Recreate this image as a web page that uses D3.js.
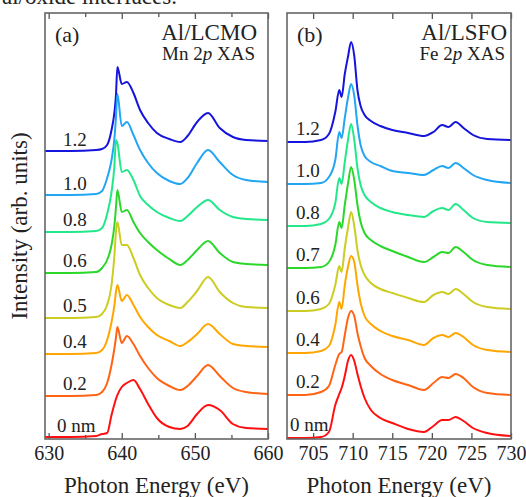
<!DOCTYPE html>
<html>
<head>
<meta charset="utf-8">
<script src="https://cdn.jsdelivr.net/npm/d3@7"></script>
<style>
  body { margin: 0; background: #fff; }
  svg text { font-family: "Liberation Serif", "DejaVu Serif", serif; fill: #222; }
</style>
</head>
<body>
<div id="chart"></div>
<script>
// Mn 2p XAS of Al/LCMO, energies shared by every curve of panel (a)
const energyA = [629.5, 633, 636.5, 637.3, 638.0, 638.6, 639.0, 639.2, 639.4, 640.0, 640.7, 641.6,
  642.5, 643.6, 644.8, 646.5, 648.0, 649.0, 650.3, 651.8, 653.4, 655.2, 657, 660];
const lcmo12 = [0, 0, 0.1, 0.2, 0.6, 2.1, 3.9, 5.5, 8.4, 6.7, 6.9, 5.8, 4.1, 2.8, 1.8, 1.2, 0.9, 1.5, 2.9, 3.8, 2.3, 1.4, 1.1, 1.0];
const lcmo10 = [0, 0, 0.1, 0.4, 1.7, 3.5, 5.7, 7.7, 10.1, 6.9, 7.3, 6.0, 4.5, 3.2, 2.2, 1.4, 1.1, 1.7, 3.2, 4.5, 3.3, 2.0, 1.5, 1.3];
const lcmo08 = [-0.1, -0.1, 0, 0.3, 1.7, 3.9, 6.6, 9.1, 8.8, 5.9, 6.1, 5.1, 3.5, 2.6, 1.9, 1.3, 1.0, 1.5, 2.4, 3.1, 2.1, 1.4, 1.2, 1.1];
const lcmo06 = [-0.1, -0.1, 0, 0.4, 1.2, 2.7, 4.7, 6.4, 8.2, 6.0, 6.2, 5.0, 3.9, 3.0, 2.2, 1.3, 0.7, 1.2, 2.2, 3.1, 1.9, 1.0, 0.8, 0.7];
const lcmo05 = [-0.1, -0.1, 0, 0.3, 1.2, 3.2, 6.2, 8.5, 9.5, 7.2, 7.2, 5.9, 4.2, 2.9, 1.9, 1.2, 0.9, 1.5, 2.6, 4.0, 2.5, 1.4, 1.0, 0.9];
const lcmo04 = [-0.1, -0.1, 0, 0.3, 1.3, 3.1, 4.8, 6.1, 6.8, 5.2, 5.8, 4.8, 3.6, 2.6, 1.8, 1.2, 0.7, 1.1, 1.9, 2.9, 1.9, 0.9, 0.7, 0.6];
const lcmo02 = [-0.1, -0.1, 0, 0.3, 1.2, 3.0, 4.7, 5.7, 6.8, 5.2, 5.9, 5.1, 3.9, 2.7, 1.7, 0.9, 0.5, 0.9, 1.9, 3.0, 1.9, 0.7, 0.3, 0.1];
const lcmo00 = [0, 0, 0.1, 0.3, 0.4, 2.2, 3.3, 3.8, 4.2, 5.0, 5.4, 5.7, 4.8, 3.3, 1.9, 1.0, 0.8, 1.1, 2.3, 3.2, 2.7, 1.3, 0.9, 0.8];
const labelsA = ["1.2", "1.0", "0.8", "0.6", "0.5", "0.4", "0.2", "0 nm"];
const offsetsA = [28.8, 24.4, 20.8, 16.7, 12.2, 8.6, 4.4, 0.2];
const ticksA = [630, 640, 650, 660];
const minorA = [635, 645, 655];

// Fe 2p XAS of Al/LSFO, panel (b)
const energyB = [701.7, 704, 706, 707, 707.8, 708.3, 708.6, 709.0, 709.4, 709.8, 710.2, 710.6, 711.0,
  711.5, 712.3, 713.5, 715, 717, 719, 720.2, 721.3, 722.1, 723.0, 724.0, 725.2, 727, 730];
const lsfo12 = [0, 0, 0.2, 0.8, 3.0, 5.2, 4.5, 6.8, 8.5, 10.0, 8.6, 5.2, 3.6, 2.7, 2.1, 1.6, 1.2, 0.9, 0.6, 1.0, 1.7, 1.5, 2.0, 1.4, 0.7, 0.3, 0.2];
const lsfo10 = [0, 0, 0.1, 0.7, 2.4, 5.2, 4.6, 6.6, 8.6, 10.0, 8.8, 5.9, 3.9, 2.8, 2.2, 1.8, 1.3, 1.1, 0.9, 1.4, 1.8, 1.6, 2.1, 1.6, 0.9, 0.4, 0.1];
const lsfo08 = [0, 0, 0.2, 0.7, 2.3, 4.8, 4.2, 6.4, 8.6, 10.2, 8.6, 5.8, 4.1, 3.1, 2.4, 1.8, 1.4, 1.1, 0.9, 1.5, 1.8, 1.6, 2.2, 1.6, 0.8, 0.4, 0.3];
const lsfo07 = [0, 0, 0.1, 0.6, 2.3, 4.6, 4.0, 6.3, 8.4, 10.1, 8.8, 6.3, 4.6, 3.5, 2.8, 2.2, 1.7, 1.1, 0.6, 1.1, 1.6, 1.5, 2.1, 1.6, 0.8, 0.3, 0.1];
const lsfo06 = [0, 0, 0.2, 0.7, 2.6, 4.5, 3.9, 6.3, 8.3, 9.9, 8.5, 6.1, 4.6, 3.6, 2.8, 2.2, 1.8, 1.3, 0.9, 1.6, 1.9, 1.7, 2.2, 1.7, 0.9, 0.4, 0.2];
const lsfo04 = [0, 0, 0.2, 0.7, 2.8, 5.1, 4.4, 6.8, 8.6, 9.7, 9.1, 6.8, 5.0, 3.7, 2.9, 2.2, 1.7, 1.3, 0.8, 1.5, 1.8, 1.6, 2.0, 1.6, 0.8, 0.3, 0.1];
const lsfo02 = [0, 0, 0.3, 0.9, 3.0, 4.1, 4.3, 6.0, 7.7, 8.4, 7.9, 6.2, 4.9, 3.7, 2.9, 2.1, 1.5, 1.0, 0.5, 1.2, 1.8, 1.7, 2.1, 1.7, 0.8, 0.2, 0];
const lsfo00 = [0, 0, 0.1, 0.6, 3.3, 4.4, 5.0, 6.2, 7.7, 8.3, 7.7, 6.4, 5.2, 4.0, 2.8, 2.0, 1.5, 0.9, 0.6, 1.2, 1.8, 1.8, 2.1, 1.7, 1.0, 0.5, 0.2];
const labelsB = ["1.2", "1.0", "0.8", "0.7", "0.6", "0.4", "0.2", "0 nm"];
const offsetsB = [29.7, 25.5, 21.3, 17.1, 12.8, 8.6, 4.4, 0.1];
const ticksB = [705, 710, 715, 720, 725, 730];

// same colour order in both panels, thickest film first
const colors = ["#1414dc", "#22a6f4", "#22e88a", "#2ad82a", "#cccc22", "#ffa600", "#ff6414", "#ff1010"];

const serif = '"Liberation Serif", "DejaVu Serif", serif';
const plotTop = 13, plotBottom = 439;

const svg = d3.select("#chart")
  .append("svg")
  .attr("width", 526)
  .attr("height", 497)
  .attr("font-family", serif);

const y = d3.scaleLinear().domain([0, 42.6]).range([plotBottom, plotTop]);

// text of the page above the figure, cut off at the top edge
svg.append("text")
  .attr("x", 2)
  .attr("y", 4)
  .style("font-size", "23px")
  .text("al/oxide interfaces.");

function drawPanel(p) {
  const x = d3.scaleLinear().domain(p.domain).range([p.left, p.right]);
  const g = svg.append("g");

  g.append("clipPath").attr("id", "clip" + p.id)
    .append("rect")
    .attr("x", p.left).attr("y", plotTop)
    .attr("width", p.right - p.left).attr("height", plotBottom - plotTop);

  const line = d3.line()
    .x(d => x(d[0]))
    .y(d => y(d[1]))
    .curve(d3.curveMonotoneX);

  g.append("g")
    .attr("clip-path", `url(#clip${p.id})`)
    .selectAll("path")
    .data(p.curves)
    .join("path")
    .attr("d", (c, i) => line(p.energy.map((e, j) => [e, c[j] + p.offsets[i]])))
    .attr("fill", "none")
    .attr("stroke", (c, i) => colors[i])
    .attr("stroke-width", 2)
    .attr("stroke-linejoin", "round");

  // thickness labels just above each pre-edge baseline
  g.selectAll(".lbl")
    .data(p.labels)
    .join("text")
    .attr("class", "lbl")
    .attr("x", d => p.left + (d.includes("nm") ? p.nmShift : p.labelShift))
    .attr("y", (d, i) => y(p.offsets[i]) - p.labelGap)
    .style("font-size", "19px")
    .text(d => d);

  // ticks point inward on bottom and top
  const styleAxis = a => {
    a.select(".domain").remove();
    a.attr("font-family", serif);
    a.selectAll("line").attr("stroke", "#555").attr("stroke-width", 1.3);
    a.selectAll("text").style("font-size", "20px").style("fill", "#222");
  };
  g.append("g")
    .attr("transform", `translate(0,${plotBottom})`)
    .call(d3.axisBottom(x).tickValues(p.ticks).tickSizeInner(-6).tickSizeOuter(0).tickPadding(7).tickFormat(d3.format("d")))
    .call(styleAxis);
  g.append("g")
    .attr("transform", `translate(0,${plotTop})`)
    .call(d3.axisTop(x).tickValues(p.ticks).tickSizeInner(-6).tickSizeOuter(0).tickFormat(""))
    .call(styleAxis);
  if (p.minor.length) {
    g.append("g")
      .attr("transform", `translate(0,${plotBottom})`)
      .call(d3.axisBottom(x).tickValues(p.minor).tickSizeInner(-4).tickSizeOuter(0).tickFormat(""))
      .call(styleAxis);
    g.append("g")
      .attr("transform", `translate(0,${plotTop})`)
      .call(d3.axisTop(x).tickValues(p.minor).tickSizeInner(-4).tickSizeOuter(0).tickFormat(""))
      .call(styleAxis);
  }

  g.append("rect")
    .attr("x", p.left).attr("y", plotTop)
    .attr("width", p.right - p.left).attr("height", plotBottom - plotTop)
    .attr("fill", "none")
    .attr("stroke", "#666")
    .attr("stroke-width", 1.6);

  g.append("text")
    .attr("x", p.left + 10).attr("y", 42)
    .style("font-size", "22px")
    .text(p.tag);

  g.append("text")
    .attr("x", p.titleRight).attr("y", 40)
    .attr("text-anchor", "end")
    .style("font-size", "23px")
    .text(p.sample);

  const edge = g.append("text")
    .attr("x", p.titleRight - 2).attr("y", 60)
    .attr("text-anchor", "end")
    .style("font-size", "19px");
  edge.append("tspan").text(p.element + " 2");
  edge.append("tspan").style("font-style", "italic").text("p");
  edge.append("tspan").text(" XAS");

  g.append("text")
    .attr("x", (p.left + p.right) / 2).attr("y", 493)
    .attr("text-anchor", "middle")
    .style("font-size", "23px")
    .text("Photon Energy (eV)");
}

drawPanel({
  id: "a", tag: "(a)", sample: "Al/LCMO", element: "Mn",
  domain: [629.5, 660], left: 45, right: 268, titleRight: 257,
  energy: energyA,
  curves: [lcmo12, lcmo10, lcmo08, lcmo06, lcmo05, lcmo04, lcmo02, lcmo00],
  labels: labelsA, offsets: offsetsA, ticks: ticksA, minor: minorA,
  labelShift: 18, nmShift: 12, labelGap: 5
});

drawPanel({
  id: "b", tag: "(b)", sample: "Al/LSFO", element: "Fe",
  domain: [701.7, 730], left: 287, right: 511, titleRight: 507,
  energy: energyB,
  curves: [lsfo12, lsfo10, lsfo08, lsfo07, lsfo06, lsfo04, lsfo02, lsfo00],
  labels: labelsB, offsets: offsetsB, ticks: ticksB, minor: [],
  labelShift: 9, nmShift: 3, labelGap: 7
});

svg.append("text")
  .attr("transform", "translate(27,226) rotate(-90)")
  .attr("text-anchor", "middle")
  .style("font-size", "23px")
  .text("Intensity (arb. units)");
</script>
</body>
</html>
